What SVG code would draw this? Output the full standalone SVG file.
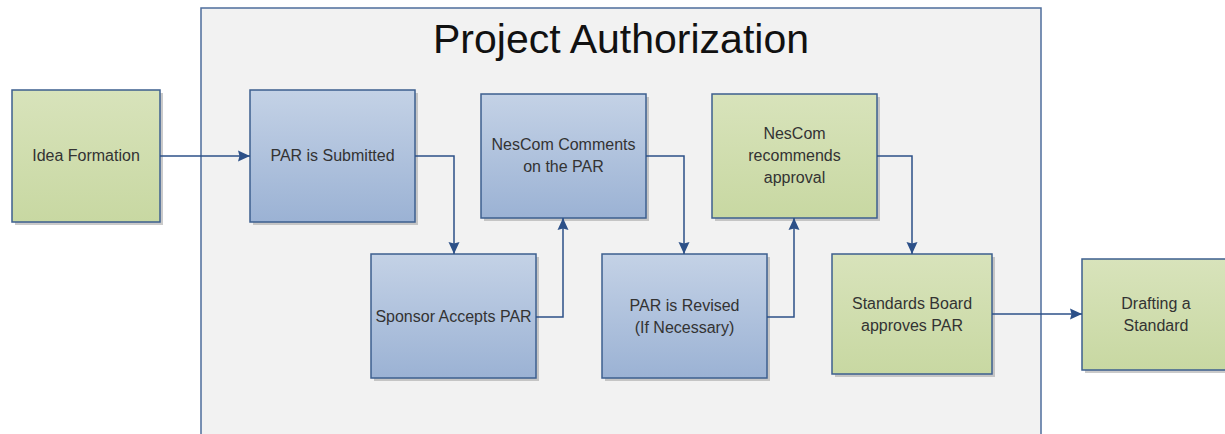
<svg xmlns="http://www.w3.org/2000/svg" width="1225" height="434" viewBox="0 0 1225 434">
<defs>
<linearGradient id="gBlue" x1="0" y1="0" x2="0" y2="1">
<stop offset="0" stop-color="#c4d2e6"/>
<stop offset="1" stop-color="#9bb2d4"/>
</linearGradient>
<linearGradient id="gGreen" x1="0" y1="0" x2="0" y2="1">
<stop offset="0" stop-color="#d8e3bb"/>
<stop offset="1" stop-color="#c8d8a2"/>
</linearGradient>
<marker id="arr" viewBox="0 0 12 12" refX="12" refY="6" markerWidth="12" markerHeight="12" markerUnits="userSpaceOnUse" orient="auto">
<path d="M0,0.5 L12,6 L0,11.5 L1.5,6 Z" fill="#2c5088"/>
</marker>
</defs>
<style>
.shadow{fill:#a6a6a6;opacity:0.6}
.blue{fill:url(#gBlue);stroke:#3d5f8f;stroke-width:1.5}
.green{fill:url(#gGreen);stroke:#3d5f8f;stroke-width:1.5}
.lbl{font-family:"Liberation Sans",Arial,sans-serif;font-size:16px;fill:#333333;text-anchor:middle}
.title{font-family:"Liberation Sans",Arial,sans-serif;font-size:41px;fill:#111111;text-anchor:middle}
.conn{fill:none;stroke:#2c5088;stroke-width:1.5;marker-end:url(#arr)}
</style>
<rect width="1225" height="434" fill="#ffffff"/>
<g id="container">
<rect x="201" y="8" width="840" height="440" fill="#f2f2f2" stroke="#4e6d9c" stroke-width="1.5"/>
<text class="title" x="621" y="53">Project Authorization</text>
</g>
<g id="idea">
<rect class="shadow" x="15" y="93" width="148" height="132"/>
<rect class="green" x="12" y="90" width="148" height="132"/>
<text class="lbl" x="86" y="161">Idea Formation</text>
</g>
<g id="submitted">
<rect class="shadow" x="253" y="93" width="165" height="132"/>
<rect class="blue" x="250" y="90" width="165" height="132"/>
<text class="lbl" x="332.5" y="161">PAR is Submitted</text>
</g>
<g id="sponsor">
<rect class="shadow" x="374" y="257" width="165" height="124"/>
<rect class="blue" x="371" y="254" width="165" height="124"/>
<text class="lbl" x="453.5" y="322">Sponsor Accepts PAR</text>
</g>
<g id="comments">
<rect class="shadow" x="484" y="97" width="165" height="124"/>
<rect class="blue" x="481" y="94" width="165" height="124"/>
<text class="lbl" x="563.5" y="150">NesCom Comments</text>
<text class="lbl" x="563.5" y="172">on the PAR</text>
</g>
<g id="revised">
<rect class="shadow" x="605" y="257" width="165" height="124"/>
<rect class="blue" x="602" y="254" width="165" height="124"/>
<text class="lbl" x="684.5" y="311">PAR is Revised</text>
<text class="lbl" x="684.5" y="333">(If Necessary)</text>
</g>
<g id="recommends">
<rect class="shadow" x="715" y="97" width="165" height="124"/>
<rect class="green" x="712" y="94" width="165" height="124"/>
<text class="lbl" x="794.5" y="139">NesCom</text>
<text class="lbl" x="794.5" y="161">recommends</text>
<text class="lbl" x="794.5" y="183">approval</text>
</g>
<g id="board">
<rect class="shadow" x="835" y="257" width="160" height="120"/>
<rect class="green" x="832" y="254" width="160" height="120"/>
<text class="lbl" x="912" y="309">Standards Board</text>
<text class="lbl" x="912" y="331">approves PAR</text>
</g>
<g id="drafting">
<rect class="shadow" x="1085" y="262" width="148" height="111"/>
<rect class="green" x="1082" y="259" width="148" height="111"/>
<text class="lbl" x="1156" y="309">Drafting a</text>
<text class="lbl" x="1156" y="331">Standard</text>
</g>
<g id="connectors">
<path class="conn" d="M160,156 L250,156"/>
<path class="conn" d="M415,156 L454,156 L454,254"/>
<path class="conn" d="M536,317 L563,317 L563,218"/>
<path class="conn" d="M646,156 L684,156 L684,254"/>
<path class="conn" d="M767,317 L794,317 L794,218"/>
<path class="conn" d="M877,156 L912,156 L912,254"/>
<path class="conn" d="M992,314 L1082,314"/>
</g>
</svg>
